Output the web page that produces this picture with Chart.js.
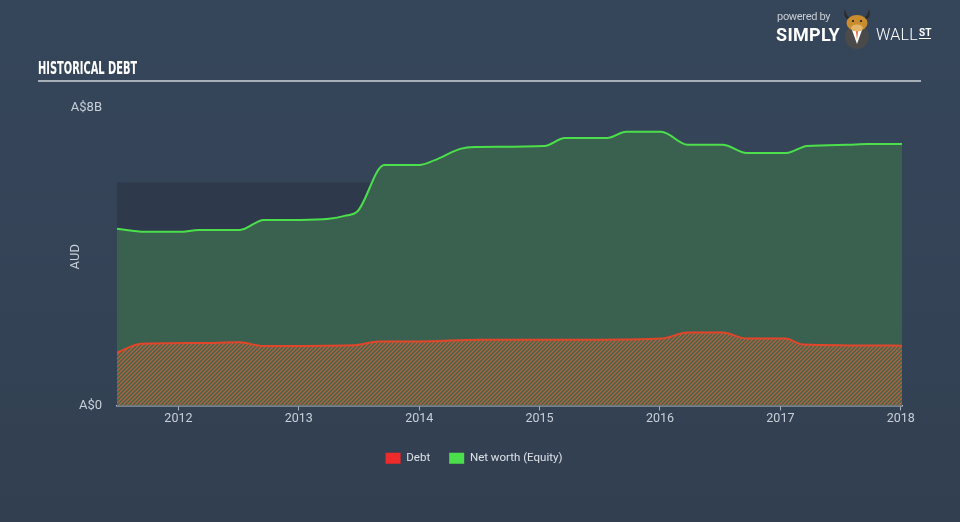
<!DOCTYPE html>
<html>
<head>
<meta charset="utf-8">
<script src="https://cdn.jsdelivr.net/npm/chart.js@4.4.0/dist/chart.umd.min.js"></script>
<style>
  html, body { margin: 0; padding: 0; }
  body {
    width: 960px; height: 522px; overflow: hidden; position: relative;
    background: linear-gradient(180deg, #36465a 0%, #344356 55%, #323f51 100%);
    font-family: Roboto, "Open Sans", sans-serif;
  }
  #chartWrap { position: absolute; left: 0; top: 0; width: 960px; height: 522px; }
  #title {
    position: absolute; left: 38px; top: 57px;
    font-family: "Liberation Sans Narrow", "DejaVu Sans Condensed", sans-serif;
    font-weight: bold; font-size: 18px; color: #ffffff; white-space: nowrap;
    transform: scaleX(0.61); transform-origin: left center;
  }
  #rule { position: absolute; left: 38px; top: 80px; width: 883px; height: 2px; background: #a7afb8; }
  #logo { position: absolute; left: 776px; top: 10px; width: 180px; height: 42px; color: #fff; }
  #logo .pb { position: absolute; left: 1px; top: 0; font-size: 11px; color: #c9ced4; letter-spacing: -0.3px; }
  #logo .simply { position: absolute; left: 0; top: 14px; font-weight: bold; font-size: 18px; letter-spacing: 0.3px; }
  #logo .wall { position: absolute; left: 100px; top: 15px; font-weight: 300; font-size: 16px; letter-spacing: 0.3px; }
  #logo .st { position: absolute; left: 143px; top: 17px; font-weight: bold; font-size: 10px; border-bottom: 1.5px solid #fff; line-height: 11px; }
  #logo .bull { position: absolute; left: 64px; top: -2px; width: 34px; height: 42px; }
</style>
</head>
<body>
<div id="chartWrap"><canvas id="debtChart" width="960" height="522"></canvas></div>
<div id="title">HISTORICAL DEBT</div>
<div id="rule"></div>
<div id="logo">
  <div class="pb">powered by</div>
  <div class="simply">SIMPLY</div>
  <svg class="bull" viewBox="0 0 34 42">
    <path d="M5 1 C3 7 5 11 10 12 L9 9 C7 8 6 5 5 1Z" fill="#2b2b2b"/>
    <path d="M29 1 C31 7 29 11 24 12 L25 9 C27 8 28 5 29 1Z" fill="#2b2b2b"/>
    <circle cx="17" cy="29" r="12" fill="#4a4a4a"/>
    <path d="M12 22 L17 36 L22 22Z" fill="#fff"/>
    <path d="M16.1 23 L17 32 L17.9 23Z" fill="#d9461e"/>
    <ellipse cx="17" cy="15" rx="10.5" ry="8" fill="#c98d2f"/>
    <ellipse cx="17" cy="20" rx="6" ry="3.5" fill="#e2b469"/>
    <circle cx="13" cy="13" r="1.1" fill="#222"/>
    <circle cx="21" cy="13" r="1.1" fill="#222"/>
  </svg>
  <div class="wall">WALL</div>
  <div class="st">ST</div>
</div>
<script>
// Historical debt vs. equity, values in A$ billions, x in decimal years

const debtYears  = [2011.49, 2011.69, 2012.17, 2012.51, 2012.70, 2013.45, 2013.67, 2014.00, 2014.50, 2015.50, 2016.01, 2016.23, 2016.52, 2016.72, 2017.04, 2017.19, 2018.01];
const debtValues = [1.42,    1.66,    1.68,    1.70,    1.60,    1.62,    1.72,    1.72,    1.77,    1.77,    1.80,    1.96,    1.96,    1.80,    1.80,    1.64,    1.61];

const equityYears  = [2011.49, 2011.72, 2012.01, 2012.17, 2012.51, 2012.71, 2013.01, 2013.25, 2013.38, 2013.49, 2013.71, 2014.00, 2014.13, 2014.34, 2014.46, 2015.04, 2015.21, 2015.56, 2015.72, 2016.01, 2016.23, 2016.52, 2016.72, 2017.05, 2017.22, 2017.55, 2017.72, 2018.01];
const equityValues = [4.75,    4.67,    4.67,    4.72,    4.72,    4.99,    4.99,    5.02,    5.10,    5.23,    6.47,    6.47,    6.60,    6.90,    6.95,    6.98,    7.19,    7.19,    7.36,    7.36,    7.01,    7.01,    6.79,    6.79,    6.98,    7.01,    7.03,    7.03];

const xTickYears = [2012, 2013, 2014, 2015, 2016, 2017, 2018];
const yTickValues = [0, 8];
const yTickLabels = ['A$0', 'A$8B'];
const shadedBandTop = 6; // darker background band behind the areas

const xMin = 2011.49;
const xMax = 2018.01;

function toPoints(xs, ys) {
    return xs.map((x, i) => ({ x: x, y: ys[i] }));
}

// Diagonal hatch for the debt area
function makeHatch() {
    const c = document.createElement('canvas');
    c.width = 4; c.height = 4;
    const g = c.getContext('2d');
    g.fillStyle = '#3f6451';
    g.fillRect(0, 0, 4, 4);
    g.strokeStyle = '#b6623b';
    g.lineWidth = 1.35;
    g.beginPath();
    g.moveTo(-1, 1); g.lineTo(1, -1);
    g.moveTo(-1, 5); g.lineTo(5, -1);
    g.moveTo(3, 5); g.lineTo(5, 3);
    g.stroke();
    return g.createPattern(c, 'repeat');
}

const bandPlugin = {
    id: 'band',
    beforeDatasetsDraw(chart) {
        const { ctx, chartArea, scales } = chart;
        const yTop = scales.y.getPixelForValue(shadedBandTop);
        const yBot = scales.y.getPixelForValue(0);
        ctx.save();
        ctx.fillStyle = '#2e3a4b';
        ctx.fillRect(chartArea.left, yTop, chartArea.right - chartArea.left, yBot - yTop);
        ctx.restore();
    }
};

const ctx = document.getElementById('debtChart').getContext('2d');
const hatch = makeHatch();

const debtChart = new Chart(ctx, {
    type: 'line',
    data: {
        datasets: [{
            label: 'Debt',
            data: toPoints(debtYears, debtValues),
            borderColor: '#e2452a',
            backgroundColor: hatch,
            borderWidth: 2,
            pointRadius: 0,
            fill: 'origin',
            cubicInterpolationMode: 'monotone'
        }, {
            label: 'Net worth (Equity)',
            data: toPoints(equityYears, equityValues),
            borderColor: '#4be04b',
            backgroundColor: '#3a6150',
            borderWidth: 2,
            pointRadius: 0,
            fill: 'origin',
            cubicInterpolationMode: 'monotone'
        }]
    },
    options: {
        responsive: false,
        animation: false,
        layout: { padding: { top: 108, left: 46, right: 58, bottom: 48 } },
        scales: {
            x: {
                type: 'linear',
                min: xMin,
                max: xMax,
                afterBuildTicks: axis => { axis.ticks = xTickYears.map(v => ({ value: v })); },
                afterFit: axis => { axis.height = 28; },
                ticks: {
                    color: '#c9d0d8',
                    font: { family: 'Roboto', size: 12.5 },
                    padding: 1,
                    maxRotation: 0,
                    callback: v => String(v)
                },
                grid: { display: true, drawOnChartArea: false, drawTicks: true, tickLength: 5, color: '#a9b2bc', lineWidth: 1 },
                border: { display: true, color: '#b9c1ca', width: 1.5 }
            },
            y: {
                min: 0,
                max: 8,
                afterBuildTicks: axis => { axis.ticks = yTickValues.map(v => ({ value: v })); },
                afterFit: axis => { axis.width = 71; },
                ticks: {
                    color: '#c9d0d8',
                    font: { family: 'Roboto', size: 13 },
                    padding: 15,
                    callback: v => yTickLabels[yTickValues.indexOf(v)]
                },
                grid: { display: false, drawTicks: false },
                border: { display: false },
                title: {
                    display: true,
                    text: 'AUD',
                    color: '#c9d0d8',
                    font: { family: 'Roboto', size: 13 },
                    padding: { top: 22, bottom: 4 }
                }
            }
        },
        plugins: {
            legend: {
                position: 'bottom',
                labels: {
                    color: '#dde2e8',
                    font: { family: 'Roboto', size: 11.5 },
                    boxWidth: 15,
                    boxHeight: 11,
                    padding: 19,
                    generateLabels: chart => chart.data.datasets.map((ds, i) => ({
                        text: ds.label,
                        fillStyle: i === 0 ? '#ee2a2a' : '#4be04b',
                        strokeStyle: 'transparent',
                        lineWidth: 0,
                        fontColor: '#dde2e8',
                        datasetIndex: i
                    }))
                }
            },
            tooltip: { enabled: false }
        }
    },
    plugins: [bandPlugin]
});
</script>
</body>
</html>
